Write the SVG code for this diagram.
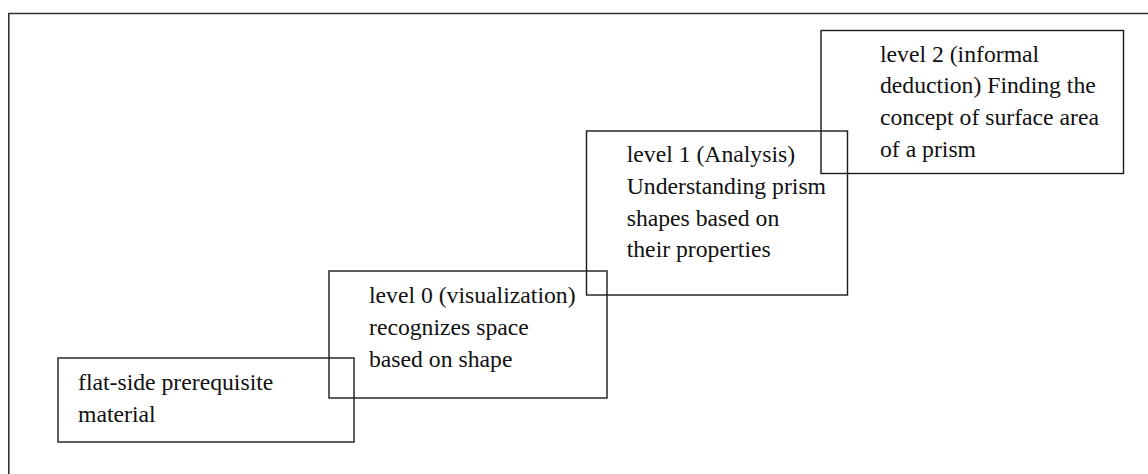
<svg xmlns="http://www.w3.org/2000/svg" width="1148" height="474" viewBox="0 0 1148 474">
<style>
.frame{fill:none;stroke:#333;stroke-width:1.6}
.box{fill:none;stroke:#1a1a1a;stroke-width:1.4}
.t{font-family:"Liberation Serif","Times New Roman",serif;font-size:23.7px;fill:#111}
</style>
<rect width="1148" height="474" fill="#fff"/>
<path class="frame" d="M1148 13.5 H8.8 V474"/>
<g id="connectors"></g>
<g id="node-prereq">
<rect class="box" x="58" y="358" width="296" height="84"/>
<text class="t" x="78" y="390">flat-side prerequisite</text>
<text class="t" x="78" y="421.7">material</text>
</g>
<g id="node-level0">
<rect class="box" x="329" y="271" width="278" height="127"/>
<text class="t" x="369" y="303.3">level 0 (visualization)</text>
<text class="t" x="369" y="335">recognizes space</text>
<text class="t" x="369" y="366.7">based on shape</text>
</g>
<g id="node-level1">
<rect class="box" x="586.5" y="131" width="261" height="164"/>
<text class="t" x="626.7" y="162.3">level 1 (Analysis)</text>
<text class="t" x="626.7" y="194">Understanding prism</text>
<text class="t" x="626.7" y="225.7">shapes based on</text>
<text class="t" x="626.7" y="257.4">their properties</text>
</g>
<g id="node-level2">
<rect class="box" x="821" y="30.5" width="302.5" height="143"/>
<text class="t" x="880" y="61.7">level 2 (informal</text>
<text class="t" x="880" y="93.3">deduction) Finding the</text>
<text class="t" x="880" y="125">concept of surface area</text>
<text class="t" x="880" y="156.7">of a prism</text>
</g>
</svg>
